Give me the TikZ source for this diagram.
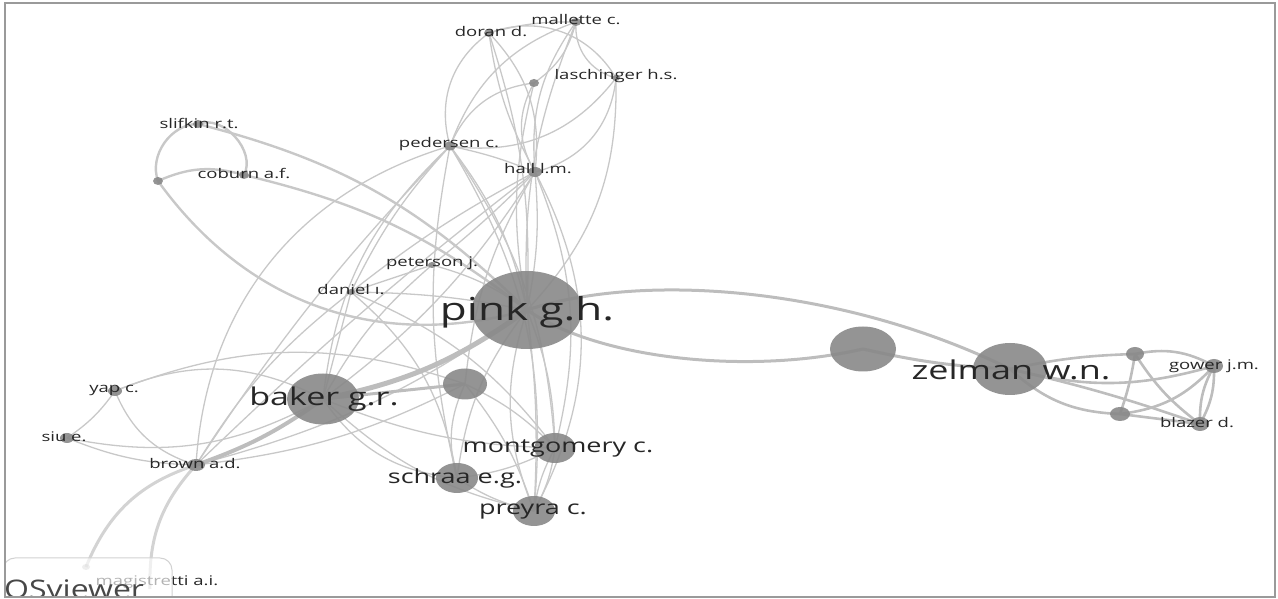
\documentclass[tikz,border=0pt]{standalone}
\usepackage{fontspec}
\setmainfont{Open Sans}
\usepackage{graphicx}
\usetikzlibrary{shapes.geometric}
\definecolor{edgec}{HTML}{C8C8C8}
\definecolor{edgek}{HTML}{BDBDBD}
\definecolor{nodec}{HTML}{888888}
\definecolor{labc}{HTML}{262626}
\definecolor{framec}{HTML}{9A9A9A}
\newcommand\sq[1]{\scalebox{1}[0.72]{#1}}
\begin{document}
\begin{tikzpicture}[x=1pt,y=1pt,
  e/.style={draw=edgec, line width=1.3pt},
  em/.style={draw=edgec, line width=2.4pt},
  ek/.style={draw=edgek, line width=3pt},
  ez/.style={draw=edgek, line width=2.6pt},
  nd/.style 2 args={ellipse, minimum width=#1, minimum height=#2, inner sep=0pt, outer sep=0pt, fill=nodec, fill opacity=0.9},
  lab/.style={text=labc, inner sep=0pt},
  fS/.style={lab, font=\fontsize{18.5}{20}\selectfont},
  fM/.style={lab, font=\fontsize{27}{30}\selectfont},
  fB/.style={lab, font=\fontsize{34}{36}\selectfont},
  fZ/.style={lab, font=\fontsize{36}{38}\selectfont},
  fP/.style={lab, font=\fontsize{44}{46}\selectfont}]
\useasboundingbox (0,0) rectangle (1278,599);
% centres
\coordinate (pk) at (527,289);
\coordinate (ua) at (863,250);
\coordinate (ze) at (1010,230);
\coordinate (za) at (1135,245);
\coordinate (go) at (1214,233);
\coordinate (zb) at (1120,185);
\coordinate (bl) at (1200,175);
\coordinate (bk) at (323,200);
\coordinate (ub) at (465,215);
\coordinate (mo) at (555,151);
\coordinate (sc) at (457,121);
\coordinate (pr) at (534,88);
\coordinate (ya) at (115,208);
\coordinate (si) at (67,161);
\coordinate (br) at (196,134);
\coordinate (dm) at (86,32);
\coordinate (mg) at (150,10);
\coordinate (sl) at (198,475);
\coordinate (ds) at (158,418);
\coordinate (co) at (244,424);
\coordinate (pe) at (450,453);
\coordinate (ha) at (535,427);
\coordinate (do) at (489,566);
\coordinate (ma) at (576,577);
\coordinate (la) at (616,521);
\coordinate (dl) at (534,516);
\coordinate (pt) at (432,334);
\coordinate (da) at (351,307);
% thin edges, top cluster
\draw[e] (do) to[bend right=35] (pe);
\draw[e] (do) to[bend left=25] (ha);
\draw[e] (do) to[bend right=10] (ha);
\draw[e] (do) to[bend left=8] (ma);
\draw[e] (do) to[bend left=40] (la);
\draw[e] (ma) to[bend right=25] (pe);
\draw[e] (ma) to[bend right=20] (ha);
\draw[e] (ma) to[bend right=40] (la);
\draw[e] (ma) to[bend left=20] (dl);
\draw[e] (la) to[bend left=30] (pe);
\draw[e] (la) to[bend left=35] (ha);
\draw[e] (dl) to[bend right=30] (pe);
\draw[e] (dl) to[bend right=30] (ha);
\draw[e] (pe) to[bend left=5] (ha);
\draw[e] (do) to[bend left=10] (pk);
\draw[e] (ma) to[bend right=12] (pk);
\draw[e] (la) to[bend left=22] (pk);
\draw[e] (dl) to[bend right=12] (pk);
\draw[e] (pe) to[bend left=12] (pk);
\draw[e] (ha) to[bend left=8] (pk);
\draw[e] (pe) to[bend right=20] (bk);
\draw[e] (pe) to[bend right=35] (br);
\draw[e] (pe) to[bend right=8] (da);
\draw[e] (pe) to[bend left=15] (mo);
\draw[e] (pe) to[bend right=12] (sc);
\draw[e] (pe) to[bend left=18] (pr);
\draw[e] (ha) to[bend left=10] (bk);
\draw[e] (ha) to[bend right=5] (da);
\draw[e] (ha) to[bend right=3] (br);
\draw[e] (ha) to[bend left=3] (pt);
\draw[e] (ha) to[bend left=18] (mo);
\draw[e] (ha) to[bend right=12] (ub);
\draw[e] (ha) to[bend left=28] (pr);
% middle
\draw[em] (sl) to[bend right=55] (ds);
\draw[em] (sl) to[bend left=70] (co);
\draw[em] (ds) to[bend left=20] (co);
\draw[em] (sl) to[bend left=15] (pk);
\draw[em] (co) to[bend left=12] (pk);
\draw[em] (ds) to[bend right=35] (pk);
\draw[e] (pt) to[bend left=10] (pk);
\draw[e] (pt) to[bend right=10] (bk);
\draw[e] (pt) to (da);
\draw[e] (da) to[bend left=5] (pk);
\draw[e] (da) to (bk);
\draw[e] (da) to[bend right=10] (br);
\draw[e] (da) to[bend left=20] (sc);
\draw[e] (da) to[bend left=15] (mo);
\draw[e] (bk) to[bend right=10] (mo);
\draw[e] (bk) to[bend right=25] (sc);
\draw[e] (bk) to[bend right=15] (pr);
\draw[e] (pk) to[bend left=10] (mo);
\draw[e] (pk) to[bend right=15] (sc);
\draw[e] (pk) to[bend left=5] (pr);
\draw[e] (pk) to[bend right=20] (pr);
\draw[e] (ub) to[bend left=10] (mo);
\draw[e] (ub) to[bend right=20] (sc);
\draw[e] (ub) to[bend left=10] (pr);
\draw[e] (mo) to[bend left=10] (sc);
\draw[e] (mo) to[bend left=10] (pr);
\draw[e] (mo) to[bend right=10] (pr);
\draw[e] (sc) to[bend right=10] (pr);
\draw[e] (ya) to[bend left=10] (si);
\draw[e] (ya) to[bend right=25] (br);
\draw[e] (si) to[bend right=10] (br);
\draw[e] (ya) to[bend left=25] (bk);
\draw[e] (ya) to[bend left=20] (ub);
\draw[e] (si) to[bend right=20] (bk);
\draw[e] (br) to[bend right=10] (ub);
\draw[e] (br) to[bend right=10] (pk);
\draw[e] (br) to[bend left=5] (pe);
% thick edges
\draw[ek] (bk) to (ub);
\draw[draw=edgek, line width=5pt] (bk) to[bend right=12] (pk);
\draw[draw=edgek, line width=4pt] (bk) to[bend left=8] (br);
\draw[draw=edgec!80, line width=3pt] (br) to[bend right=25] (dm);
\draw[draw=edgec!80, line width=3pt] (br) to[bend right=22] (mg);
\draw[ek] (pk) .. controls (650,329) and (850,309) .. (ze);
\draw[ek] (pk) .. controls (600,239) and (750,224) .. (ua);
\draw[ek] (ua) to[bend right=5] (ze);
% zelman cluster
\draw[ez] (ze) to[bend left=5] (za);
\draw[ez] (ze) to[bend right=15] (go);
\draw[ez] (ze) to[bend right=20] (zb);
\draw[ez] (ze) to[bend left=3] (bl);
\draw[ez] (za) to[bend left=5] (zb);
\draw[ez] (za) to[bend right=10] (bl);
\draw[ez] (za) to[bend left=20] (go);
\draw[ez] (zb) to[bend right=20] (go);
\draw[ez] (go) to[bend right=15] (bl);
\draw[ez] (go) to[bend left=15] (bl);
\draw[ez] (zb) to (bl);
% circles
\node[nd={110}{78}] (pkC) at (pk) {};
\node[nd={66}{45}] (uaC) at (ua) {};
\node[nd={74}{52}] (zeC) at (ze) {};
\node[nd={44}{31}] (ubC) at (ub) {};
\node[nd={72}{51}] (bkC) at (bk) {};
\node[nd={41}{30}] (moC) at (mo) {};
\node[nd={42}{30}] (scC) at (sc) {};
\node[nd={42}{30}] (prC) at (pr) {};
\node[nd={18}{14}] (zaC) at (za) {};
\node[nd={18}{14}] (goC) at (go) {};
\node[nd={20}{14}] (zbC) at (zb) {};
\node[nd={18}{14}] (blC) at (bl) {};
\node[nd={14}{10}] (yaC) at (ya) {};
\node[nd={14}{10}] (siC) at (si) {};
\node[nd={18}{12}] (brC) at (br) {};
\node[nd={8}{6}, fill opacity=0.4] (dmC) at (dm) {};
\node[nd={10}{8}] (slC) at (sl) {};
\node[nd={10}{8}] (dsC) at (ds) {};
\node[nd={10}{8}] (coC) at (co) {};
\node[nd={12}{9}] (peC) at (pe) {};
\node[nd={14}{10}] (haC) at (ha) {};
\node[nd={10}{8}] (doC) at (do) {};
\node[nd={10}{8}] (maC) at (ma) {};
\node[nd={8}{6}] (laC) at (la) {};
\node[nd={10}{8}] (dlC) at (dl) {};
\node[nd={8}{6}] (ptC) at (pt) {};
\node[nd={8}{6}] (daC) at (da) {};
% labels
\node[fP] (pkL) at (527,287) {\sq{pink g.h.}};
\node[fZ] (zeL) at (1011,229) {\sq{zelman w.n.}};
\node[fB] (bkL) at (324,200) {\sq{baker g.r.}};
\node[fM] (moL) at (558,151) {\sq{montgomery c.}};
\node[fM] (scL) at (455,121) {\sq{schraa e.g.}};
\node[fM] (prL) at (533,87) {\sq{preyra c.}};
\node[fS] (goL) at (1214,233) {\sq{gower j.m.}};
\node[fS] (blL) at (1197,176) {\sq{blazer d.}};
\node[fS] (yaL) at (114,209) {\sq{yap c.}};
\node[fS] (siL) at (64,162) {\sq{siu e.}};
\node[fS] (brL) at (195,135) {\sq{brown a.d.}};
\node[fS] (slL) at (199,475) {\sq{slifkin r.t.}};
\node[fS] (coL) at (244,425) {\sq{coburn a.f.}};
\node[fS] (peL) at (449,455) {\sq{pedersen c.}};
\node[fS] (haL) at (538,430) {\sq{hall l.m.}};
\node[fS] (doL) at (491,567) {\sq{doran d.}};
\node[fS] (maL) at (576,579) {\sq{mallette c.}};
\node[fS] (laL) at (616,523) {\sq{laschinger h.s.}};
\node[fS] (ptL) at (432,336) {\sq{peterson j.}};
\node[fS] (daL) at (351,309) {\sq{daniel ı.}};
\node[fS] (mgL) at (157,17) {\sq{magistretti a.i.}};
% logo box
\begin{scope}
\clip (5,2) rectangle (1275,596);
\draw[draw=gray!35, line width=1pt, fill=white, fill opacity=0.65, rounded corners=12pt] (3,-20) rectangle (172,41);
\node[anchor=base west, inner sep=0pt, text=labc!85, font=\fontsize{32}{34}\selectfont] (logo) at (4,0) {\scalebox{1}[0.8]{OSviewer}};
\end{scope}
% frame
\draw[draw=framec, line width=1.5pt] (5,2) rectangle (1275,596);
\end{tikzpicture}
\end{document}
